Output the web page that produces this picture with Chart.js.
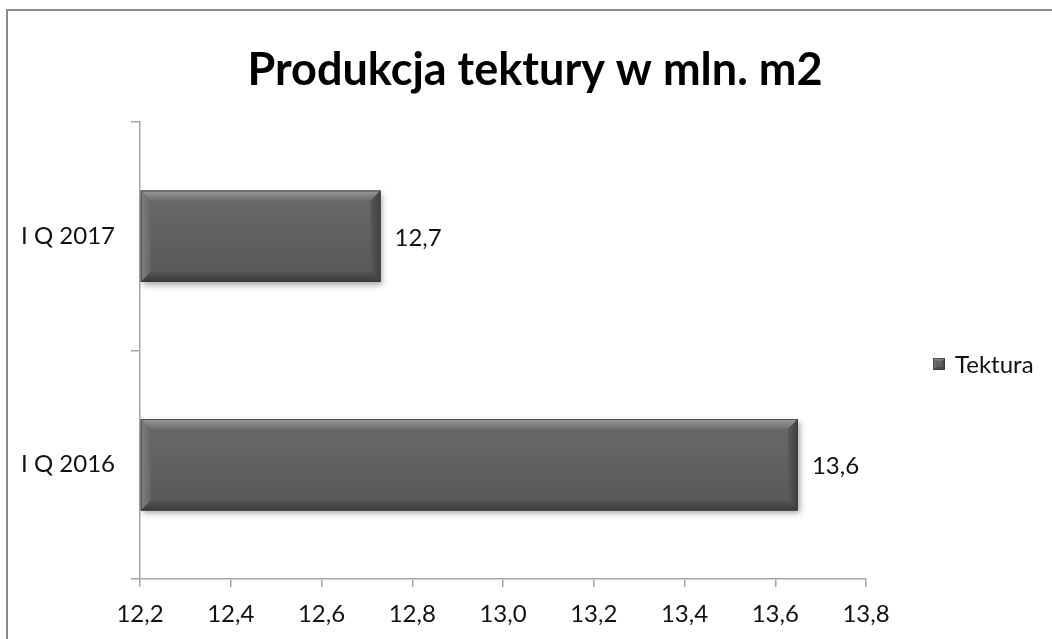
<!DOCTYPE html>
<html>
<head>
<meta charset="utf-8">
<script src="https://cdn.jsdelivr.net/npm/chart.js@4.4.0/dist/chart.umd.min.js"></script>
<style>
  html, body { margin: 0; padding: 0; background: #fff; }
  #wrap { width: 1052px; height: 639px; }
</style>
</head>
<body>
<div id="wrap"><canvas id="c" width="1052" height="639"></canvas></div>
<script>
// ---- data ----
const categories = ["I Q 2016", "I Q 2017"];
const seriesName = "Tektura";
const values = [13.65, 12.73];
const valueLabels = ["13,6", "12,7"];
const axisMin = 12.2;
const axisMax = 13.8;
const axisStep = 0.2;
const titleText = "Produkcja tektury w mln. m2";

const FONT = "Lato, 'Open Sans', sans-serif";

const framePlugin = {
  id: 'frame',
  beforeInit(chart) {
    // right-hand spacer box reserving room for the legend area
    const spacer = {
      position: 'right',
      weight: 100,
      fullSize: false,
      options: { stack: undefined },
      width: 0, height: 0, left: 0, top: 0, right: 0, bottom: 0,
      isHorizontal() { return false; },
      getPadding() { return { left: 0, top: 0, right: 0, bottom: 0 }; },
      update(maxWidth, maxHeight) { this.width = 186; this.height = maxHeight; },
      draw() {}
    };
    Chart.layouts.addBox(chart, spacer);
  },
  beforeDraw(chart) {
    const ctx = chart.ctx;
    ctx.save();
    ctx.fillStyle = '#fff';
    ctx.fillRect(0, 0, chart.width, chart.height);
    ctx.strokeStyle = '#8a8a8a';
    ctx.lineWidth = 2;
    ctx.strokeRect(7, 10, 3000, 3000);
    ctx.restore();
  }
};

function bevelRect(ctx, l, t, r, b, bw) {
  let g = ctx.createLinearGradient(0, t, 0, b);
  g.addColorStop(0, '#6a6a6a');
  g.addColorStop(1, '#575757');
  ctx.fillStyle = g;
  ctx.fillRect(l, t, r - l, b - t);
  g = ctx.createLinearGradient(0, t, 0, t + bw);
  g.addColorStop(0, '#9a9a9a');
  g.addColorStop(1, '#6e6e6e');
  ctx.fillStyle = g;
  ctx.beginPath();
  ctx.moveTo(l, t); ctx.lineTo(r, t); ctx.lineTo(r - bw, t + bw); ctx.lineTo(l + bw, t + bw); ctx.closePath();
  ctx.fill();
  g = ctx.createLinearGradient(l, 0, l + bw, 0);
  g.addColorStop(0, '#808080');
  g.addColorStop(1, '#666666');
  ctx.fillStyle = g;
  ctx.beginPath();
  ctx.moveTo(l, t); ctx.lineTo(l + bw, t + bw); ctx.lineTo(l + bw, b - bw); ctx.lineTo(l, b); ctx.closePath();
  ctx.fill();
  g = ctx.createLinearGradient(r - bw, 0, r, 0);
  g.addColorStop(0, '#5a5a5a');
  g.addColorStop(1, '#3e3e3e');
  ctx.fillStyle = g;
  ctx.beginPath();
  ctx.moveTo(r, t); ctx.lineTo(r, b); ctx.lineTo(r - bw, b - bw); ctx.lineTo(r - bw, t + bw); ctx.closePath();
  ctx.fill();
  g = ctx.createLinearGradient(0, b - bw, 0, b);
  g.addColorStop(0, '#555555');
  g.addColorStop(1, '#3a3a3a');
  ctx.fillStyle = g;
  ctx.beginPath();
  ctx.moveTo(l, b); ctx.lineTo(r, b); ctx.lineTo(r - bw, b - bw); ctx.lineTo(l + bw, b - bw); ctx.closePath();
  ctx.fill();
  ctx.strokeStyle = 'rgba(60,60,60,0.8)';
  ctx.lineWidth = 1;
  ctx.strokeRect(l + 0.5, t + 0.5, r - l - 1, b - t - 1);
}

const bevelPlugin = {
  id: 'bevel',
  afterDatasetsDraw(chart) {
    const ctx = chart.ctx;
    const meta = chart.getDatasetMeta(0);
    meta.data.forEach((bar, i) => {
      const p = bar.getProps(['x', 'y', 'base', 'height'], true);
      const l = Math.min(p.base, p.x), r = Math.max(p.base, p.x);
      const t = p.y - p.height / 2, b = p.y + p.height / 2;
      ctx.save();
      ctx.shadowColor = 'rgba(0,0,0,0.35)';
      ctx.shadowBlur = 6;
      ctx.shadowOffsetX = 2;
      ctx.shadowOffsetY = 3;
      ctx.fillStyle = '#555';
      ctx.fillRect(l, t, r - l, b - t);
      ctx.restore();
      ctx.save();
      bevelRect(ctx, l, t, r, b, 10);
      ctx.restore();
      ctx.save();
      ctx.fillStyle = '#111';
      ctx.font = "24px " + FONT;
      ctx.textBaseline = 'middle';
      ctx.textAlign = 'left';
      ctx.fillText(valueLabels[i], r + 14, p.y + 2);
      ctx.restore();
    });
    const ds = chart.data.datasets[0];
    ctx.save();
    const lx = 933, ly = 364;
    bevelRect(ctx, lx, ly - 6, lx + 12, ly + 6, 3);
    ctx.fillStyle = '#111';
    ctx.font = "24px " + FONT;
    ctx.textBaseline = 'middle';
    ctx.fillText(ds.label, 955, ly + 1);
    ctx.restore();
  }
};

new Chart(document.getElementById('c'), {
  type: 'bar',
  data: {
    labels: categories,
    datasets: [{
      label: seriesName,
      data: values,
      base: axisMin,
      backgroundColor: 'rgba(0,0,0,0)',
      borderWidth: 0,
      categoryPercentage: 1.0,
      barPercentage: 0.4
    }]
  },
  options: {
    indexAxis: 'y',
    responsive: false,
    animation: false,
    layout: { padding: { left: 18, right: 0, top: 0, bottom: 0 } },
    plugins: {
      legend: { display: false },
      tooltip: { enabled: false },
      title: {
        display: true,
        text: titleText,
        color: '#000',
        font: { family: FONT, size: 45, weight: 'bold', lineHeight: 1.2 },
        padding: { top: 43, bottom: 25 }
      }
    },
    scales: {
      x: {
        type: 'linear',
        min: axisMin,
        max: axisMax,
        ticks: {
          stepSize: axisStep,
          color: '#111',
          font: { family: FONT, size: 24 },
          padding: 13,
          callback: (v) => v.toFixed(1).replace('.', ',')
        },
        grid: { drawOnChartArea: false, drawTicks: true, tickLength: 8, color: '#a6a6a6', lineWidth: 1.5 },
        border: { display: true, color: '#a6a6a6', width: 1.5 },
        afterFit(scale) { scale.height = 60; }
      },
      y: {
        type: 'category',
        reverse: true,
        offset: true,
        ticks: {
          color: '#111',
          font: { family: FONT, size: 24 },
          padding: 16
        },
        grid: { drawOnChartArea: false, drawTicks: true, tickLength: 9, offset: true, color: '#a6a6a6', lineWidth: 1.5 },
        border: { display: true, color: '#a6a6a6', width: 1.5 },
        afterFit(scale) { scale.width = 122; }
      }
    }
  },
  plugins: [framePlugin, bevelPlugin]
});
</script>
</body>
</html>
